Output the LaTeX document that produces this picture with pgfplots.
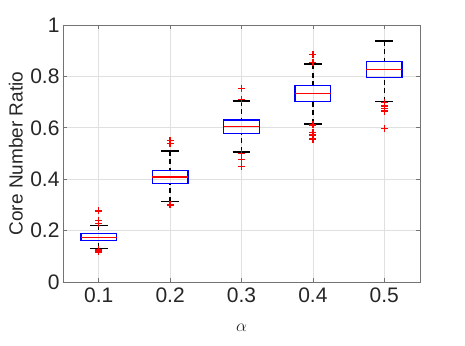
\documentclass[border=0pt]{standalone}
\usepackage{fontspec}
\setmainfont{Liberation Sans}
\usepackage{pgfplots}
\pgfplotsset{compat=1.18}
\usepgfplotslibrary{statistics}

% MATLAB-like boxplot: blue box, dashed black whiskers, red + outliers
% (medians are drawn as separate red plots below)
\pgfplotsset{
  matbox/.style={
    red, mark=+, mark size=3.5pt, mark options={solid, red, line width=1.4pt},
    boxplot/draw direction=y,
    boxplot/box extend=0.5,
    boxplot/whisker extend=0.25,
    boxplot/every box/.style={draw=blue, line width=1.4pt},
    boxplot/draw/median/.code={},
    boxplot/draw/lower whisker/.code={
      \draw[black, line width=1.4pt, dash pattern=on 5pt off 3.5pt]
        (boxplot box cs:\pgfplotsboxplotvalue{lower whisker},0.5) --
        (boxplot box cs:\pgfplotsboxplotvalue{lower quartile},0.5);
      \draw[black, line width=1.4pt]
        (boxplot whisker cs:\pgfplotsboxplotvalue{lower whisker},0) --
        (boxplot whisker cs:\pgfplotsboxplotvalue{lower whisker},1);
    },
    boxplot/draw/upper whisker/.code={
      \draw[black, line width=1.4pt, dash pattern=on 5pt off 3.5pt]
        (boxplot box cs:\pgfplotsboxplotvalue{upper whisker},0.5) --
        (boxplot box cs:\pgfplotsboxplotvalue{upper quartile},0.5);
      \draw[black, line width=1.4pt]
        (boxplot whisker cs:\pgfplotsboxplotvalue{upper whisker},0) --
        (boxplot whisker cs:\pgfplotsboxplotvalue{upper whisker},1);
    },
  },
  medline/.style={draw=red, line width=1.5pt, no marks, forget plot},
}

\begin{document}
\begin{tikzpicture}
\begin{axis}[
  scale only axis,
  width=357pt, height=257pt,
  xmin=0.5, xmax=5.5,
  ymin=0, ymax=1,
  xtick={1,2,3,4,5},
  xticklabels={0.1,0.2,0.3,0.4,0.5},
  ytick={0,0.2,0.4,0.6,0.8,1},
  yticklabels={0,0.2,0.4,0.6,0.8,1},
  grid=major, grid style={black!12, line width=0.6pt},
  axis line style={black!55, line width=0.7pt},
  tick style={black!55, line width=0.7pt},
  major tick length=4pt, tick align=inside,
  tick label style={font=\fontsize{21}{21}\selectfont, text=black!85},
  xticklabel style={yshift=-2pt},
  label style={font=\fontsize{19}{19}\selectfont, text=black!85},
  xlabel={$\alpha$},
  ylabel={Core Number Ratio},
  x label style={at={(axis description cs:0.5,-0.18)}, anchor=center},
  y label style={at={(axis description cs:-0.132,0.5)}, anchor=center},
]
\addplot[matbox, boxplot prepared={draw position=1,
  lower whisker=0.131, lower quartile=0.162, median=0.173,
  upper quartile=0.189, upper whisker=0.221}]
  table[row sep=\\, y index=0] {y\\ 0.277\\ 0.239\\ 0.228\\ 0.127\\ 0.122\\ 0.117\\};
\addplot[matbox, boxplot prepared={draw position=2,
  lower whisker=0.3125, lower quartile=0.384, median=0.408,
  upper quartile=0.434, upper whisker=0.510}]
  table[row sep=\\, y index=0] {y\\ 0.550\\ 0.540\\ 0.300\\};
\addplot[matbox, boxplot prepared={draw position=3,
  lower whisker=0.506, lower quartile=0.577, median=0.606,
  upper quartile=0.630, upper whisker=0.705}]
  table[row sep=\\, y index=0] {y\\ 0.754\\ 0.709\\ 0.501\\ 0.477\\ 0.449\\};
\addplot[matbox, boxplot prepared={draw position=4,
  lower whisker=0.615, lower quartile=0.703, median=0.733,
  upper quartile=0.764, upper whisker=0.848}]
  table[row sep=\\, y index=0] {y\\ 0.886\\ 0.855\\ 0.611\\ 0.581\\ 0.572\\ 0.556\\};
\addplot[matbox, boxplot prepared={draw position=5,
  lower whisker=0.702, lower quartile=0.795, median=0.826,
  upper quartile=0.857, upper whisker=0.938}]
  table[row sep=\\, y index=0] {y\\ 0.698\\ 0.685\\ 0.674\\ 0.665\\ 0.598\\};
% medians
\addplot[medline] coordinates {(0.75,0.173) (1.25,0.173)};
\addplot[medline] coordinates {(1.75,0.408) (2.25,0.408)};
\addplot[medline] coordinates {(2.75,0.606) (3.25,0.606)};
\addplot[medline] coordinates {(3.75,0.733) (4.25,0.733)};
\addplot[medline] coordinates {(4.75,0.826) (5.25,0.826)};
\end{axis}
\pgfresetboundingbox
\path ([xshift=-63pt,yshift=-63pt]current axis.south west)
  rectangle ([xshift=45pt,yshift=25pt]current axis.north east);
\end{tikzpicture}
\end{document}
